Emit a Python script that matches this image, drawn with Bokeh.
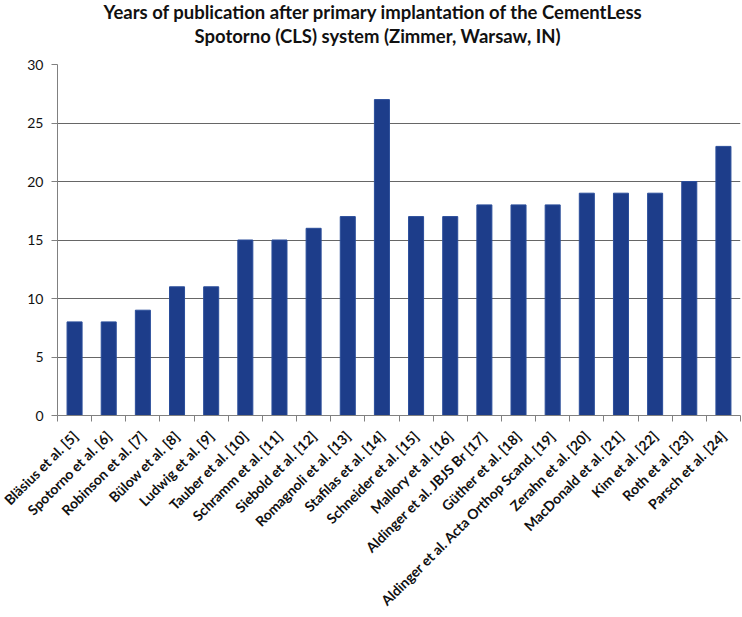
import math
from bokeh.plotting import figure
from bokeh.models import Range1d, FixedTicker, Title
from bokeh.embed import file_html
from bokeh.resources import INLINE

studies = [
    "Bläsius et al. [5]", "Spotorno et al. [6]", "Robinson et al. [7]", "Bülow et al. [8]",
    "Ludwig et al. [9]", "Tauber et al. [10]", "Schramm et al. [11]", "Siebold et al. [12]",
    "Romagnoli et al. [13]", "Stafilas et al. [14]", "Schneider et al. [15]", "Mallory et al. [16]",
    "Aldinger et al. JBJS Br [17]", "Güther et al. [18]", "Aldinger et al. Acta Orthop Scand. [19]",
    "Zerahn et al. [20]", "MacDonald et al. [21]", "Kim et al. [22]", "Roth et al. [23]", "Parsch et al. [24]",
]
years = [8, 8, 9, 11, 11, 15, 15, 16, 17, 27, 17, 17, 18, 18, 18, 19, 19, 19, 20, 23]
y_ticks = [0, 5, 10, 15, 20, 25, 30]

title_line1 = "Years of publication after primary implantation of the CementLess"
title_line2 = "Spotorno (CLS) system (Zimmer, Warsaw, IN)"

n = len(studies)
centers = [i + 0.5 for i in range(n)]
bounds = list(range(n + 1))

FONT = "Lato"

p = figure(width=742, height=617, output_backend="svg", toolbar_location=None,
           x_range=Range1d(0, n), y_range=Range1d(0, 30),
           min_border_left=57, min_border_right=2, min_border_top=0, min_border_bottom=202)
p.outline_line_color = None
p.background_fill_color = "white"

p.vbar(x=centers, top=years, width=0.44, fill_color="#1d3d8a", line_color="#2a4d9a", line_width=1)

# spacer between the title and the plot area
p.add_layout(Title(text=" ", text_font_size="1px", standoff=13), "above")
for txt, off in [(title_line2, 137), (title_line1, 46)]:
    t = Title(text=txt, align="left", vertical_align="top", text_font=FONT,
              text_font_size="18.5px", text_font_style="bold", text_color="#111111",
              offset=off, standoff=0)
    p.add_layout(t, "above")
p.title.visible = False

# y axis
p.yaxis.ticker = FixedTicker(ticks=y_ticks)
p.yaxis.axis_line_color = "#808080"
p.yaxis.major_tick_line_color = "#808080"
p.yaxis.major_tick_out = 6
p.yaxis.major_tick_in = 0
p.yaxis.minor_tick_line_color = None
p.yaxis.major_label_text_font = FONT
p.yaxis.major_label_text_font_size = "14px"
p.yaxis.major_label_text_color = "#111111"
p.yaxis.major_label_standoff = 8

# x axis: labels at bar centres, tick marks at category boundaries
p.xaxis.ticker = FixedTicker(ticks=centers, minor_ticks=bounds)
p.xaxis.major_label_overrides = {c: s for c, s in zip(centers, studies)}
p.xaxis.major_label_orientation = math.pi / 4
p.xaxis.major_tick_line_color = None
p.xaxis.minor_tick_line_color = "#808080"
p.xaxis.minor_tick_out = 6
p.xaxis.minor_tick_in = 0
p.xaxis.axis_line_color = "#808080"
p.xaxis.major_label_text_font = FONT
p.xaxis.major_label_text_font_size = "14px"
p.xaxis.major_label_text_font_style = "bold"
p.xaxis.major_label_text_color = "#111111"
p.xaxis.major_label_standoff = 12

p.xgrid.grid_line_color = None
p.ygrid.ticker = FixedTicker(ticks=y_ticks)
p.ygrid.grid_line_color = "#666666"
p.ygrid.grid_line_width = 1.2

open("out.html", "w").write(file_html(p, INLINE))
